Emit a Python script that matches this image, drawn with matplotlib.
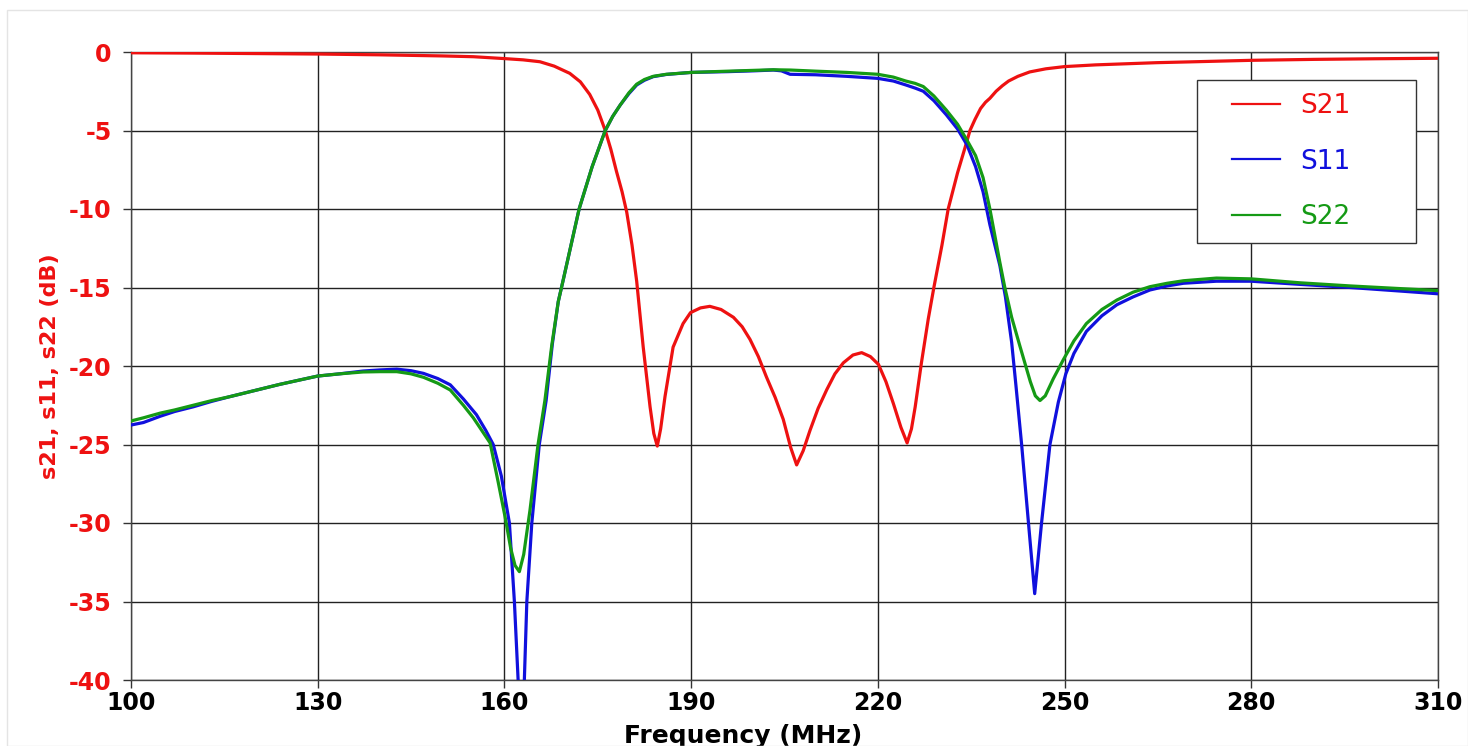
import matplotlib
matplotlib.use("Agg")
import matplotlib.pyplot as plt
from matplotlib.patches import Rectangle

# ---------------- data ----------------
freq_s21 = [100, 110, 120, 130, 140, 150, 155, 160, 163, 165.7, 168, 170.5, 172.2,
            173.7, 175, 176.2, 177.1, 178.0, 178.9, 179.65, 180.5, 181.25, 181.6,
            182.3, 183.4, 184.0, 184.56, 185.1, 185.8, 187.1, 188.7, 189.9, 191.5,
            193.0, 194.8, 196.8, 198.2, 199.45, 200.8, 202.1, 203.5, 204.8, 206.0,
            206.95, 208.0, 209.1, 210.4, 211.8, 213.1, 214.45, 216.0, 217.4, 218.8,
            220.1, 221.3, 222.5, 223.7, 224.7, 225.4, 226.0, 227.0, 228.1, 229.0,
            230.3, 231.3, 232.8, 234.0, 234.8, 235.6, 236.5, 237.3, 238.0, 239.0,
            240.0, 241.0, 242.5, 244.4, 247, 250, 255, 264.8, 270, 280, 290, 300, 310]
s21 = [-0.05, -0.07, -0.1, -0.13, -0.18, -0.25, -0.3, -0.42, -0.5, -0.62, -0.9, -1.36,
       -1.9, -2.7, -3.7, -5.0, -6.2, -7.6, -8.9, -10.2, -12.3, -14.6, -16.0, -18.8,
       -22.6, -24.3, -25.1, -24.0, -21.95, -18.8, -17.3, -16.6, -16.3, -16.2, -16.4,
       -16.9, -17.5, -18.3, -19.4, -20.7, -22.0, -23.4, -25.2, -26.3, -25.4, -24.1,
       -22.7, -21.5, -20.5, -19.8, -19.3, -19.15, -19.4, -19.9, -21.0, -22.4, -23.9,
       -24.9, -24.0, -22.6, -19.8, -17.0, -15.0, -12.3, -10.0, -7.7, -6.1, -5.0,
       -4.3, -3.6, -3.2, -2.95, -2.5, -2.15, -1.85, -1.55, -1.27, -1.07, -0.93,
       -0.82, -0.68, -0.63, -0.53, -0.47, -0.43, -0.4]

freq_s11 = [100, 102, 104.7, 107, 110, 113, 115.9, 120, 123.9, 127, 130, 133.5, 137.3,
            140, 142.7, 145, 147, 149.3, 151.3, 153.4, 155.5, 157, 158.2, 159.5, 160.8,
            161.6, 162.2, 162.7, 163.2, 163.6, 164.4, 165.6, 166.7, 167.7, 168.65,
            169.4, 170.7, 172.0, 174.1, 176.2, 177.4, 178.6, 180, 181.25, 182.5,
            183.9, 186, 190, 196, 200, 203.2, 204.5, 205.9, 210, 215, 220, 222.5,
            224.5, 226, 227.3, 229, 231, 232.8, 234.3, 235.7, 236.9, 238, 239.6,
            240.5, 241.5, 242.2, 243.1, 244.2, 245.2, 246.3, 247.65, 249.0, 250.2,
            251.5, 253.5, 256, 258.4, 261, 263.7, 266.5, 269.1, 274.4, 280, 287.8,
            295.9, 303, 310]
s11 = [-23.76, -23.6, -23.2, -22.9, -22.6, -22.25, -21.95, -21.55, -21.17, -20.9,
       -20.64, -20.5, -20.32, -20.25, -20.2, -20.3, -20.47, -20.8, -21.2, -22.1,
       -23.1, -24.1, -25.0, -27.0, -30.0, -35.0, -40.0, -42.0, -40.0, -35.0, -30.0,
       -25.0, -22.2, -18.6, -15.9, -14.6, -12.3, -10.0, -7.3, -5.0, -4.1, -3.38,
       -2.65, -2.1, -1.8, -1.57, -1.43, -1.3, -1.25, -1.2, -1.15, -1.2, -1.42, -1.45,
       -1.55, -1.68, -1.85, -2.1, -2.3, -2.5, -3.1, -4.0, -4.9, -5.9, -7.3, -8.9,
       -11.0, -13.6, -15.6, -18.5, -21.3, -25.0, -30.0, -34.5, -30.0, -25.0, -22.3,
       -20.5, -19.2, -17.8, -16.8, -16.1, -15.6, -15.16, -14.9, -14.73, -14.6,
       -14.6, -14.8, -15.0, -15.2, -15.4]

freq_s22 = [100, 102, 104.7, 107, 110, 113, 115.9, 120, 123.9, 127, 130, 133.5, 137.3,
            140, 142.7, 145, 147, 149.3, 151.3, 153.4, 155, 156.1, 157.7, 159, 160.1,
            161, 161.7, 162.4, 163.1, 164.1, 165.4, 166.5, 167.6, 168.65, 169.4,
            170.7, 172.0, 174.1, 176.2, 177.4, 178.6, 180, 181.25, 182.5, 183.9, 186,
            190, 196, 200, 203.2, 206, 210, 215, 220, 222.5, 224.5, 226, 227.3, 229,
            231, 232.8, 234.3, 235.7, 236.9, 238, 239.6, 240.4, 241.5, 242.8, 244.5,
            245.3, 246.05, 246.9, 248.2, 249.8, 251.5, 253.5, 256, 258.4, 261, 263.7,
            266.5, 269.1, 274.4, 280, 287.8, 295.9, 303, 310]
s22 = [-23.5, -23.3, -23.0, -22.8, -22.5, -22.2, -21.95, -21.55, -21.17, -20.9,
       -20.64, -20.5, -20.38, -20.36, -20.36, -20.5, -20.72, -21.1, -21.53, -22.5,
       -23.3, -23.95, -24.9, -27.4, -29.6, -31.6, -32.7, -33.1, -32.0, -29.2, -25.0,
       -22.2, -18.7, -15.9, -14.6, -12.3, -10.0, -7.3, -5.0, -4.1, -3.38, -2.6,
       -2.05, -1.75, -1.55, -1.42, -1.3, -1.22, -1.17, -1.13, -1.15, -1.22, -1.3,
       -1.42, -1.6, -1.85, -2.0, -2.2, -2.8, -3.7, -4.6, -5.6, -6.6, -8.0, -10.0,
       -13.4, -15.0, -16.9, -18.7, -21.0, -21.9, -22.2, -21.9, -20.8, -19.6, -18.4,
       -17.3, -16.4, -15.8, -15.3, -14.95, -14.73, -14.57, -14.4, -14.45, -14.7,
       -14.9, -15.05, -15.2]

series_labels = ["S21", "S11", "S22"]
x_ticks = [100, 130, 160, 190, 220, 250, 280, 310]
y_ticks = [0, -5, -10, -15, -20, -25, -30, -35, -40]

# ---------------- styling ----------------
RED = "#ee1111"
BLUE = "#1010dd"
GREEN = "#159a15"
FONT = "DejaVu Sans"

fig = plt.figure(figsize=(14.68, 7.46), dpi=100)
fig.patch.set_facecolor("white")
fig.patches.append(Rectangle((7 / 1468, 0), 1 - 7 / 1468, 1 - 10 / 746,
                             transform=fig.transFigure, fill=False,
                             edgecolor="#e4e4e4", lw=1.0))

ax = fig.add_axes([131 / 1468, 1 - 680 / 746, (1438 - 131) / 1468, (680 - 52) / 746])

l1, = ax.plot(freq_s21, s21, color=RED, lw=2.3, label=series_labels[0], zorder=3)
l2, = ax.plot(freq_s11, s11, color=BLUE, lw=2.3, label=series_labels[1], zorder=3)
l3, = ax.plot(freq_s22, s22, color=GREEN, lw=2.3, label=series_labels[2], zorder=3)

ax.set_xlim(100, 310)
ax.set_ylim(-40, 0)
ax.set_xticks(x_ticks)
ax.set_yticks(y_ticks)
ax.set_xticklabels([str(v) for v in x_ticks], fontfamily=FONT, fontweight="bold",
                   fontsize=17, color="black")
ax.set_yticklabels([str(v) for v in y_ticks], fontfamily=FONT, fontweight="bold",
                   fontsize=17, color=RED)
ax.tick_params(axis="x", direction="out", length=6, width=1, pad=2, colors="#333333",
               labelcolor="black")
ax.tick_params(axis="y", direction="out", length=6, width=1, pad=8, colors="#333333",
               labelcolor=RED)
ax.grid(True, color="#222222", lw=1.0, zorder=1)
ax.set_axisbelow(True)
for sp in ax.spines.values():
    sp.set_color("#444444")
    sp.set_linewidth(1.0)

ax.set_ylabel("s21, s11, s22 (dB)", fontfamily=FONT, fontweight="bold",
              fontsize=16, color=RED)
ax.yaxis.set_label_coords((60 - 131) / 1307, 0.5)
ax.set_xlabel("Frequency (MHz)", fontfamily=FONT, fontweight="bold", fontsize=18,
              color="black")
ax.xaxis.set_label_coords((743 - 131) / 1307, (680 - 724) / 628)

# legend frame (drawn separately to reproduce its wide box)
ax.add_patch(Rectangle(((1197 - 131) / 1307, (680 - 243) / 628),
                       (1416 - 1197) / 1307, (243 - 80) / 628,
                       transform=ax.transAxes, facecolor="white",
                       edgecolor="#333333", lw=1.0, zorder=6, clip_on=False))
leg = ax.legend(handles=[l1, l2, l3], loc="upper left",
                bbox_to_anchor=((1232 - 131) / 1307, (680 - 93) / 628),
                frameon=False, borderpad=0, borderaxespad=0,
                handlelength=1.8, handletextpad=0.8, labelspacing=1.12,
                prop={"family": FONT, "size": 19}, labelcolor="linecolor")
leg.set_zorder(7)
for h in leg.legend_handles:
    h.set_linewidth(1.6)

fig.savefig("out.png", dpi=100, facecolor="white")
